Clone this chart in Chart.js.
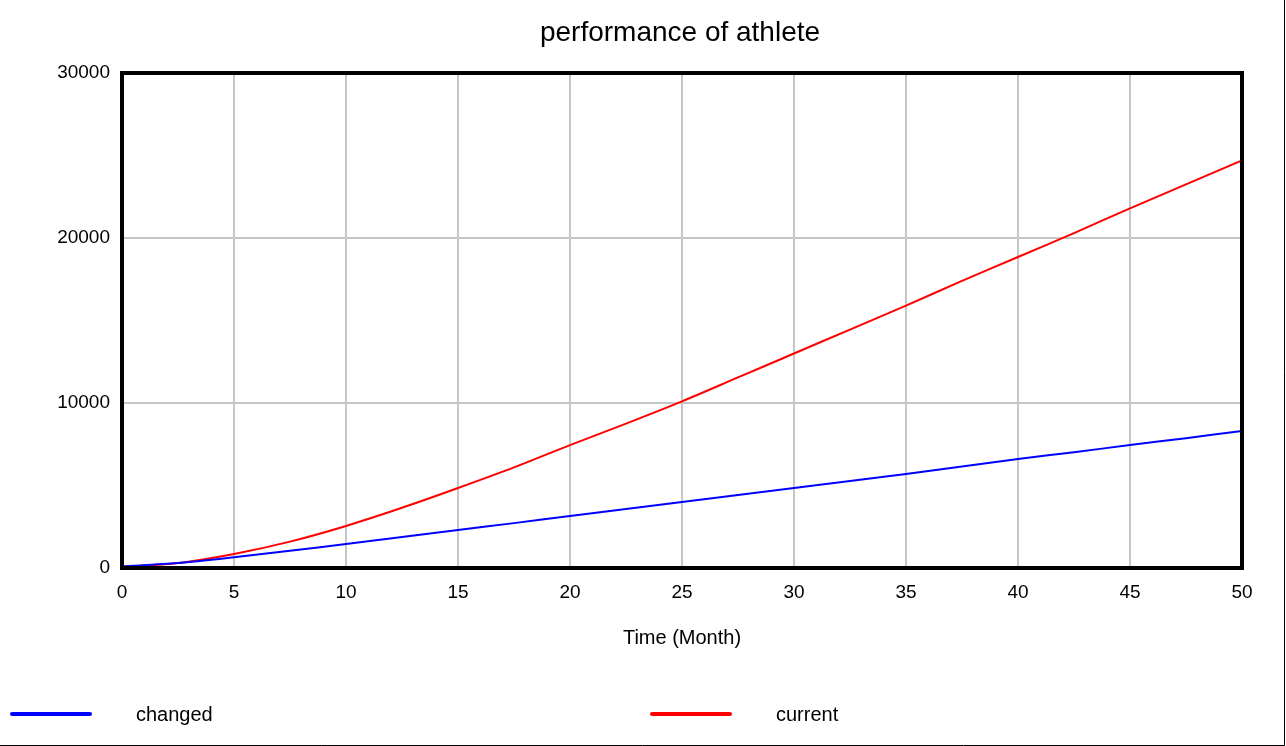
<!DOCTYPE html>
<html>
<head>
<meta charset="utf-8">
<script src="https://cdn.jsdelivr.net/npm/chart.js@4/dist/chart.umd.min.js"></script>
<style>
  html, body { margin: 0; padding: 0; background: #fff; }
  #wrap { position: relative; width: 1286px; height: 746px; }
</style>
</head>
<body>
<div id="wrap"><canvas id="perf" width="1286" height="746"></canvas></div>
<script>
// months on the x axis
var months = [0, 2.5, 5, 7.5, 10, 12.5, 15, 17.5, 20, 22.5, 25, 27.5, 30, 32.5, 35, 37.5, 40, 42.5, 45, 47.5, 50];
// series
var changed = [100, 300, 650, 1050, 1450, 1880, 2300, 2720, 3150, 3570, 4000, 4420, 4850, 5270, 5700, 6150, 6600, 7020, 7450, 7870, 8300];
var current = [50, 300, 850, 1600, 2550, 3650, 4850, 6100, 7450, 8750, 10100, 11550, 13000, 14450, 15900, 17400, 18850, 20300, 21800, 23250, 24700];
var seriesNames = ['changed', 'current'];
var xTicks = [0, 5, 10, 15, 20, 25, 30, 35, 40, 45, 50];
var yTicks = [0, 10000, 20000, 30000];

var FONT = '"Liberation Sans", Arial, Helvetica, sans-serif';

function points(ys) {
  return months.map(function (m, i) { return { x: m, y: ys[i] }; });
}

// title, plot frame, bottom legend and outer page frame
var extras = {
  id: 'extras',
  afterDraw: function (chart) {
    var c = chart.ctx, a = chart.chartArea;
    c.save();
    c.strokeStyle = '#000';
    c.lineWidth = 4;
    c.strokeRect(a.left, a.top, a.right - a.left, a.bottom - a.top);

    c.fillStyle = '#000';
    c.font = '28px ' + FONT;
    c.textAlign = 'center';
    c.textBaseline = 'middle';
    c.fillText('performance of athlete', 680, 33);

    var legX = [10, 650];
    c.font = '20px ' + FONT;
    c.textAlign = 'left';
    chart.data.datasets.forEach(function (ds, i) {
      c.strokeStyle = ds.borderColor;
      c.lineWidth = 4;
      c.lineCap = 'round';
      c.beginPath();
      c.moveTo(legX[i] + 2, 714);
      c.lineTo(legX[i] + 80, 714);
      c.stroke();
      c.fillText(ds.label, legX[i] + 126, 715);
    });

    c.strokeStyle = '#000';
    c.lineWidth = 1;
    c.lineCap = 'butt';
    c.beginPath();
    c.moveTo(1284.5, 0);
    c.lineTo(1284.5, 745.5);
    c.lineTo(0, 745.5);
    c.stroke();
    c.restore();
  }
};

new Chart(document.getElementById('perf').getContext('2d'), {
  type: 'line',
  data: {
    datasets: [
      { label: seriesNames[0], data: points(changed), borderColor: '#0000ff', borderWidth: 2, pointRadius: 0, tension: 0.3, fill: false },
      { label: seriesNames[1], data: points(current), borderColor: '#ff0000', borderWidth: 2, pointRadius: 0, tension: 0.3, fill: false }
    ]
  },
  options: {
    responsive: false,
    animation: false,
    layout: { padding: { left: 0, right: 44, top: 73, bottom: 92 } },
    plugins: { legend: { display: false }, title: { display: false }, tooltip: { enabled: false } },
    scales: {
      x: {
        type: 'linear', min: 0, max: 50,
        afterBuildTicks: function (s) { s.ticks = xTicks.map(function (v) { return { value: v }; }); },
        afterFit: function (s) { s.height = 86; },
        grid: { color: '#c6c6c6', lineWidth: 2, drawTicks: false },
        border: { display: false },
        ticks: { color: '#000', font: { family: FONT, size: 19 }, padding: 13, maxRotation: 0 },
        title: { display: true, text: 'Time (Month)', color: '#000', font: { family: FONT, size: 20 } }
      },
      y: {
        min: 0, max: 30000,
        afterBuildTicks: function (s) { s.ticks = yTicks.map(function (v) { return { value: v }; }); },
        afterFit: function (s) { s.width = 122; },
        grid: { color: '#c6c6c6', lineWidth: 2, drawTicks: false },
        border: { display: false },
        ticks: { color: '#000', font: { family: FONT, size: 19 }, padding: 12, callback: function (v) { return String(v); } }
      }
    }
  },
  plugins: [extras]
});
</script>
</body>
</html>
